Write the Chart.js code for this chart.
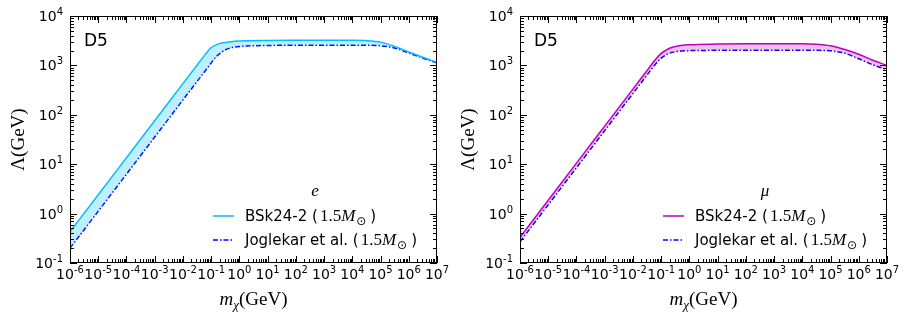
<!DOCTYPE html>
<html><head><meta charset="utf-8">
<script src="https://cdn.jsdelivr.net/npm/chart.js@4"></script>
<style>
html,body{margin:0;padding:0;background:#fff;overflow:hidden}
#wrap{position:relative;width:909px;height:320px}
canvas{position:absolute;top:0}
</style>
</head><body>
<div id="wrap">
<canvas id="c1" width="450" height="320" style="left:0;width:450px;height:320px"></canvas>
<canvas id="c2" width="459" height="320" style="left:450px;width:459px;height:320px"></canvas>
</div>
<script>
// ---- data ----
const massGeV = [1e-6, 1e-5, 1e-4, 1e-3, 1e-2, 3e-2, 0.06, 0.1, 0.15, 0.2, 0.3, 0.5, 1, 10, 100, 1e3, 1e4, 3e4, 1e5, 3e5, 1e6, 3e6, 1e7];
const eBSk   = [0.43, 2.4, 13.5, 76, 427, 973, 1635, 2300, 2600, 2760, 2900, 3020, 3110, 3200, 3230, 3240, 3230, 3180, 2960, 2450, 1880, 1480, 1150];
const eJog   = [0.20, 1.12, 6.3, 35.5, 200, 455, 764, 1120, 1500, 1730, 2030, 2270, 2410, 2530, 2560, 2570, 2570, 2560, 2500, 2270, 1780, 1420, 1120];
const muBSk  = [0.33, 1.86, 10.5, 59, 331, 755, 1270, 1750, 2030, 2230, 2390, 2520, 2610, 2700, 2740, 2750, 2740, 2690, 2500, 2120, 1680, 1290, 1000];
const muJog  = [0.27, 1.51, 8.5, 48, 270, 614, 1030, 1400, 1640, 1770, 1880, 1950, 1990, 2020, 2030, 2030, 2030, 2020, 1970, 1780, 1360, 1040, 820];
const xTickExps = [-6,-5,-4,-3,-2,-1,0,1,2,3,4,5,6,7];
const yTickExps = [-1,0,1,2,3,4];
const panelLabel = 'D5';
const legendLabels = ['BSk24-2', 'Joglekar et al.'];
const legendMass = '1.5';
const panelTitles = ['e', '\u03bc'];

const SANS = '"DejaVu Sans"';
const SERIF = '"Liberation Serif"';

function drawRich(ctx, parts, x, y, align){
  let w = 0;
  for (const p of parts){ ctx.font = p.font; w += ctx.measureText(p.t).width + (p.post||0); }
  let cx = align === 'center' ? x - w/2 : (align === 'right' ? x - w : x);
  for (const p of parts){
    ctx.font = p.font;
    ctx.fillText(p.t, cx, y + (p.dy||0));
    cx += ctx.measureText(p.t).width + (p.post||0);
  }
  return w;
}

function decorPlugin(cfg){
  return {
    id: 'decor',
    afterDraw(chart){
      const ctx = chart.ctx;
      const xs = chart.scales.x, ys = chart.scales.y;
      const a = chart.chartArea;
      ctx.save();
      ctx.strokeStyle = '#000';
      ctx.fillStyle = '#000';
      ctx.lineWidth = 1;
      ctx.strokeRect(a.left + 0.5, a.top + 0.5, a.right - a.left - 1, a.bottom - a.top - 1);
      const maj = 7, mnr = 4;
      ctx.beginPath();
      for (const d of xTickExps){
        for (let k = 1; k <= 9; k++){
          const v = k * Math.pow(10, d);
          if (v > xs.max * 1.0001) break;
          const px = Math.round(xs.getPixelForValue(v)) + 0.5;
          const L = k === 1 ? maj : mnr;
          ctx.moveTo(px, a.bottom); ctx.lineTo(px, a.bottom - L);
          ctx.moveTo(px, a.top); ctx.lineTo(px, a.top + L);
        }
      }
      for (const d of yTickExps){
        for (let k = 1; k <= 9; k++){
          const v = k * Math.pow(10, d);
          if (v > ys.max * 1.0001) break;
          const py = Math.round(ys.getPixelForValue(v)) + 0.5;
          const L = k === 1 ? maj : mnr;
          ctx.moveTo(a.left, py); ctx.lineTo(a.left + L, py);
          ctx.moveTo(a.right, py); ctx.lineTo(a.right - L, py);
        }
      }
      ctx.stroke();
      ctx.textBaseline = 'alphabetic';
      ctx.textAlign = 'left';
      const base = '14px ' + SANS, sup = '10px ' + SANS;
      for (const d of xTickExps){
        const px = xs.getPixelForValue(Math.pow(10, d));
        drawRich(ctx, [{t:'10', font:base}, {t:String(d), font:sup, dy:-6}], px, a.bottom + 16, 'center');
      }
      for (const d of yTickExps){
        const py = ys.getPixelForValue(Math.pow(10, d));
        drawRich(ctx, [{t:'10', font:base}, {t:String(d), font:sup, dy:-6}], a.left - 7, py + 5, 'right');
      }
      const cxm = (a.left + a.right) / 2;
      drawRich(ctx, [
        {t:'m', font:'italic 19px ' + SERIF},
        {t:'\u03c7', font:'italic 13px ' + SERIF, dy:4},
        {t:'(GeV)', font:'19px ' + SERIF}
      ], cxm, a.bottom + 42, 'center');
      ctx.save();
      ctx.translate(24, (a.top + a.bottom) / 2);
      ctx.rotate(-Math.PI / 2);
      drawRich(ctx, [{t:'\u039b(GeV)', font:'19px ' + SERIF}], 0, 0, 'center');
      ctx.restore();
      ctx.font = '17px ' + SANS;
      ctx.fillText(panelLabel, a.left + 14, a.top + 30);
      // legend
      const lx0 = a.left + 143, lx1 = a.left + 164, tx = a.left + 175;
      const y1 = a.top + 200, y2 = a.top + 224;
      ctx.textAlign = 'center';
      ctx.font = 'italic 17px ' + SERIF;
      ctx.fillText(cfg.title, a.left + 245, a.top + 180);
      ctx.textAlign = 'left';
      ctx.lineWidth = 1.5;
      ctx.strokeStyle = cfg.color;
      ctx.setLineDash([]);
      ctx.beginPath(); ctx.moveTo(lx0, y1); ctx.lineTo(lx1, y1); ctx.stroke();
      ctx.strokeStyle = '#0000ff';
      ctx.setLineDash([5, 2, 1.5, 2]);
      ctx.beginPath(); ctx.moveTo(lx0, y2); ctx.lineTo(lx1, y2); ctx.stroke();
      ctx.setLineDash([]);
      const rows = [[legendLabels[0], y1], [legendLabels[1], y2]];
      for (const [lab, yy] of rows){
        drawRich(ctx, [
          {t: lab + ' (', font:'15px ' + SANS, post: 2},
          {t: legendMass, font:'17px ' + SERIF},
          {t: 'M', font:'italic 17px ' + SERIF, post: 1},
          {t: '\u2299', font:'12px ' + SANS, dy:4, post: 4},
          {t: ')', font:'15px ' + SANS}
        ], tx, yy + 5, 'left');
      }
      ctx.restore();
    }
  };
}

function makeChart(id, bsk, jog, color, fillColor, title, padRight){
  const pts = arr => massGeV.map((x, i) => ({x: x, y: arr[i]}));
  return new Chart(document.getElementById(id), {
    type: 'line',
    data: {
      datasets: [
        {label: legendLabels[0], data: pts(bsk), borderColor: color, backgroundColor: fillColor,
         fill: '+1', borderWidth: 1.5, pointRadius: 0, cubicInterpolationMode: 'monotone'},
        {label: legendLabels[1], data: pts(jog), borderColor: '#0000ff', backgroundColor: 'transparent',
         fill: false, borderWidth: 1.5, borderDash: [5, 2, 1.5, 2], pointRadius: 0, cubicInterpolationMode: 'monotone'}
      ]
    },
    options: {
      responsive: false, animation: false, devicePixelRatio: 1,
      layout: {padding: {left: 70, right: padRight, top: 16, bottom: 57}},
      plugins: {legend: {display: false}, tooltip: {enabled: false}},
      scales: {
        x: {type: 'logarithmic', min: 1e-6, max: 1e7, display: false},
        y: {type: 'logarithmic', min: 0.1, max: 1e4, display: false}
      }
    },
    plugins: [decorPlugin({title: title, color: color})]
  });
}

makeChart('c1', eBSk, eJog, '#00bfff', 'rgba(0,191,255,0.25)', panelTitles[0], 13);
makeChart('c2', muBSk, muJog, '#bf00bf', 'rgba(191,0,191,0.25)', panelTitles[1], 22);
</script>
</body></html>
